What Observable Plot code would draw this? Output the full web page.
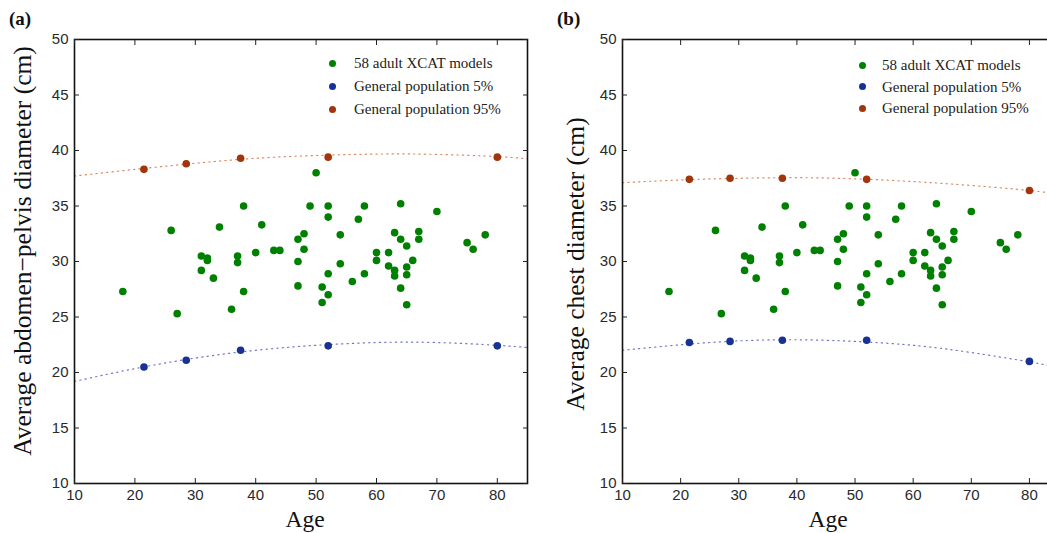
<!DOCTYPE html>
<html>
<head>
<meta charset="utf-8">
<script src="https://cdn.jsdelivr.net/npm/d3@7"></script>
<script src="https://cdn.jsdelivr.net/npm/@observablehq/plot@0.6"></script>
<style>
  html, body { margin: 0; padding: 0; background: #fff; overflow: hidden; }
  #wrap { position: relative; width: 1047px; height: 533px; overflow: hidden; background: #fff; }
  .panel { position: absolute; top: 0; }
  .panel svg { max-width: none !important; display: block; }
  .serif { position: absolute; font-family: "Liberation Serif", "Times New Roman", serif; color: #111; white-space: nowrap; }
  .ylab { font-size: 25.5px; transform: translate(-50%, -50%) rotate(-90deg); }
  .xlab { font-size: 23.5px; line-height: 26px; transform: translateX(-50%); }
  .tag { font-size: 19px; font-weight: bold; }
  .leg { position: absolute; font-family: "Liberation Serif", "Times New Roman", serif; font-size: 15px; color: #222; white-space: nowrap; }
  .leg .row { position: absolute; left: 0; height: 20px; line-height: 20px; }
  .leg .dot { position: absolute; width: 7px; height: 7px; border-radius: 50%; }
</style>
</head>
<body>
<div id="wrap"></div>
<script>
// ---------------- DATA ----------------
const xTicks = [10, 20, 30, 40, 50, 60, 70, 80];
const yTicks = [10, 15, 20, 25, 30, 35, 40, 45, 50];

const seriesNames = ["58 adult XCAT models", "General population 5%", "General population 95%"];

// 58 adult XCAT models (same scatter in both panels)
const xcatAge = [18, 26, 27, 31, 32, 32, 31, 33, 34, 36, 37, 37, 38, 38, 40, 41, 43, 44, 47, 47,
                 47, 50, 49, 52, 58, 64, 70, 52, 57, 48, 54, 63, 64, 67, 67, 65, 75, 76, 78, 48,
                 60, 62, 60, 54, 62, 66, 63, 65, 63, 65, 52, 58, 56, 51, 52, 51, 64, 65];
const xcatAbdomen = [27.3, 32.8, 25.3, 30.5, 30.3, 30.1, 29.2, 28.5, 33.1, 25.7, 30.5, 29.9, 35.0, 27.3, 30.8, 33.3, 31.0, 31.0, 32.0, 30.0,
                     27.8, 38.0, 35.0, 35.0, 35.0, 35.2, 34.5, 34.0, 33.8, 32.5, 32.4, 32.6, 32.0, 32.7, 32.0, 31.4, 31.7, 31.1, 32.4, 31.1,
                     30.8, 30.8, 30.1, 29.8, 29.6, 30.1, 29.2, 29.5, 28.7, 28.8, 28.9, 28.9, 28.2, 27.7, 27.0, 26.3, 27.6, 26.1];
const xcatChest = [27.3, 32.8, 25.3, 30.5, 30.3, 30.1, 29.2, 28.5, 33.1, 25.7, 30.5, 29.9, 35.0, 27.3, 30.8, 33.3, 31.0, 31.0, 32.0, 30.0,
                   27.8, 38.0, 35.0, 35.0, 35.0, 35.2, 34.5, 34.0, 33.8, 32.5, 32.4, 32.6, 32.0, 32.7, 32.0, 31.4, 31.7, 31.1, 32.4, 31.1,
                   30.8, 30.8, 30.1, 29.8, 29.6, 30.1, 29.2, 29.5, 28.7, 28.8, 28.9, 28.9, 28.2, 27.7, 27.0, 26.3, 27.6, 26.1];

// General population percentiles
const popAge = [21.5, 28.5, 37.5, 52, 80];
const abdomenP5  = [20.5, 21.1, 22.0, 22.4, 22.4];
const abdomenP95 = [38.3, 38.8, 39.3, 39.4, 39.4];
const chestP5    = [22.7, 22.8, 22.9, 22.9, 21.0];
const chestP95   = [37.4, 37.5, 37.5, 37.4, 36.4];

// Dotted fitted curves
const fitAge = [10, 20, 30, 40, 50, 60, 70, 80, 85];
const abdomenFit5  = [19.2, 20.35, 21.3, 22.0, 22.45, 22.7, 22.7, 22.45, 22.25];
const abdomenFit95 = [37.7, 38.3, 38.85, 39.3, 39.55, 39.68, 39.65, 39.45, 39.25];
const chestFit5    = [22.0, 22.5, 22.85, 22.95, 22.8, 22.45, 21.8, 20.95, 20.45];
const chestFit95   = [37.1, 37.35, 37.5, 37.55, 37.45, 37.2, 36.85, 36.4, 36.05];

// ---------------- STYLE ----------------
const GREEN = "#008000", BLUE = "#173194", BROWN = "#a2350b";
const BLUE_L = "#7075c8", BROWN_L = "#d88a60";

function zip(xs, ys) { return xs.map((x, i) => ({x, y: ys[i]})); }

function panel({scatterY, p5, p95, fit5, fit95, width, marginLeft, marginRight}) {
  return Plot.plot({
    width, height: 533,
    marginLeft, marginRight, marginTop: 39, marginBottom: 50,
    x: {domain: [10, 85]},
    y: {domain: [10, 50]},
    style: {fontFamily: "'Liberation Sans', Arial, Helvetica, sans-serif", fontSize: "15px", color: "#2a2a2a", background: "#fff"},
    marks: [
      Plot.line(zip(fitAge, fit95), {x: "x", y: "y", stroke: BROWN_L, strokeWidth: 1.2, strokeDasharray: "1.2,4.2", curve: "natural"}),
      Plot.line(zip(fitAge, fit5), {x: "x", y: "y", stroke: BLUE_L, strokeWidth: 1.2, strokeDasharray: "1.2,4.2", curve: "natural"}),
      Plot.dot(zip(xcatAge, scatterY), {x: "x", y: "y", r: 3.8, fill: GREEN, stroke: "none"}),
      Plot.dot(zip(popAge, p5), {x: "x", y: "y", r: 3.8, fill: BLUE, stroke: "none"}),
      Plot.dot(zip(popAge, p95), {x: "x", y: "y", r: 3.8, fill: BROWN, stroke: "none"}),
      Plot.frame({stroke: "#111", strokeWidth: 1.6}),
      Plot.axisX(xTicks, {anchor: "bottom", tickSize: 0, tickPadding: 6, label: null}),
      Plot.axisX(xTicks, {anchor: "bottom", tickSize: 5, dy: -5, tickFormat: () => "", label: null, stroke: "#222"}),
      Plot.axisX(xTicks, {anchor: "top", tickSize: 5, dy: 5, tickFormat: () => "", label: null, stroke: "#222"}),
      Plot.axisY(yTicks, {anchor: "left", tickSize: 0, tickPadding: 6, label: null}),
      Plot.axisY(yTicks, {anchor: "left", tickSize: 5, dx: 5, tickFormat: () => "", label: null, stroke: "#222"}),
      Plot.axisY(yTicks, {anchor: "right", tickSize: 5, dx: -5, tickFormat: () => "", label: null, stroke: "#222"})
    ]
  });
}

const wrap = document.getElementById("wrap");

function addPanel(svg, left, width) {
  const d = document.createElement("div");
  d.className = "panel";
  d.style.left = left + "px";
  d.style.width = width + "px";
  svg.style.maxWidth = "none";
  d.appendChild(svg);
  wrap.appendChild(d);
}

addPanel(panel({scatterY: xcatAbdomen, p5: abdomenP5, p95: abdomenP95, fit5: abdomenFit5, fit95: abdomenFit95,
                width: 540, marginLeft: 74, marginRight: 13}), 0, 540);
addPanel(panel({scatterY: xcatChest, p5: chestP5, p95: chestP95, fit5: chestFit5, fit95: chestFit95,
                width: 530, marginLeft: 82, marginRight: 12}), 540, 530);

function addText(cls, text, left, top) {
  const d = document.createElement("div");
  d.className = "serif " + cls;
  d.textContent = text;
  d.style.left = left + "px";
  d.style.top = top + "px";
  wrap.appendChild(d);
}

addText("tag", "(a)", 9, 8);
addText("tag", "(b)", 557, 8);
addText("ylab", "Average abdomen\u2212pelvis diameter (cm)", 23, 251);
addText("ylab", "Average chest diameter (cm)", 576, 264);
addText("xlab", "Age", 305, 506);
addText("xlab", "Age", 828, 506);

function addLegend(left, top, dotX, textX, rowGap) {
  const leg = document.createElement("div");
  leg.className = "leg";
  leg.style.left = left + "px";
  leg.style.top = top + "px";
  const colors = [GREEN, BLUE, BROWN];
  seriesNames.forEach((name, i) => {
    const row = document.createElement("div");
    row.className = "row";
    row.style.top = (i * rowGap) + "px";
    const dot = document.createElement("div");
    dot.className = "dot";
    dot.style.background = colors[i];
    dot.style.left = (dotX - 3.5) + "px";
    dot.style.top = "6.5px";
    const t = document.createElement("span");
    t.style.position = "absolute";
    t.style.left = textX + "px";
    t.textContent = name;
    row.appendChild(dot);
    row.appendChild(t);
    leg.appendChild(row);
  });
  wrap.appendChild(leg);
}
addLegend(300, 53, 32, 54, 23);
addLegend(840, 55, 22, 42, 21.5);
</script>
</body>
</html>
